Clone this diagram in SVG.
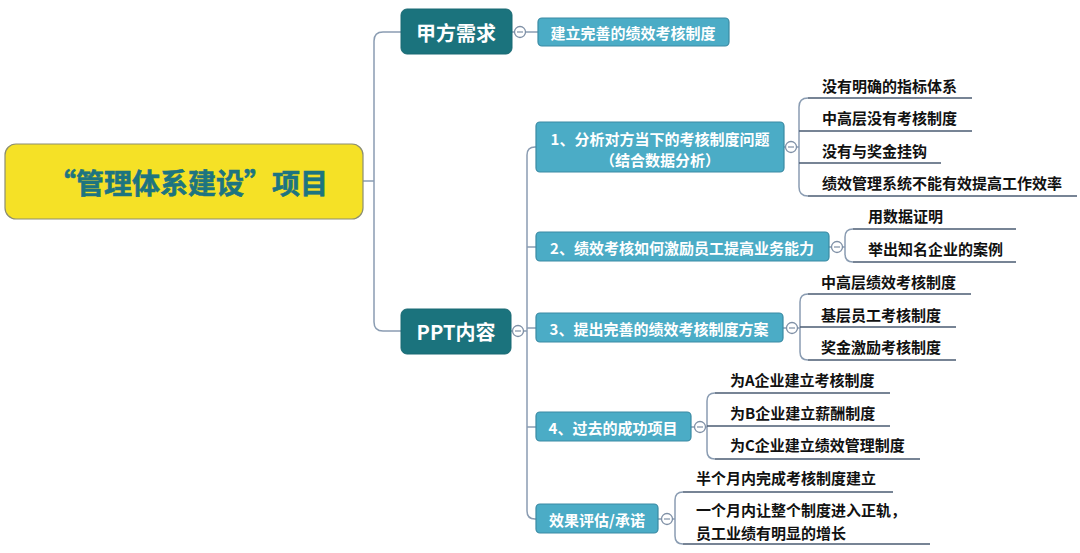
<svg xmlns="http://www.w3.org/2000/svg" width="1080" height="553" viewBox="0 0 1080 553">
<style>
.t{font-family:"Noto Sans CJK SC","Microsoft YaHei",sans-serif;font-weight:bold}
.root{fill:#F5E126;stroke:#8C8E72;stroke-width:1.2}
.rootText{fill:#1D7480;font-size:28px;stroke:#1D7480;stroke-width:0.6}
.dark{fill:#1B737D;stroke:#1B6A74;stroke-width:1}
.darkText{fill:#FFFFFF;font-size:20px}
.light{fill:#4BACC6;stroke:#3A8AA3;stroke-width:1.2}
.lightText{fill:#FFFFFF;font-size:15px}
.leafText{fill:#111111;font-size:15px}
.conn{fill:none;stroke:#8A9CB2;stroke-width:1.5}
.under{fill:none;stroke:#4A5B72;stroke-width:1.5}
.brk{fill:none;stroke:#8A9CB2;stroke-width:1.5}
.col{fill:#FFFFFF;stroke:#7F90A6;stroke-width:1.3}
.minus{stroke:#7F90A6;stroke-width:1.2}
</style>
<rect width="1080" height="553" fill="#FFFFFF"/>
<g id="connectors">
  <path class="conn" d="M363 181 H374"/>
  <path class="conn" d="M401 32 H383 Q374 32 374 41 V322 Q374 331 383 331 H401"/>
  <path class="conn" d="M512 32 H538"/>
  <path class="conn" d="M511 331 H527"/>
  <path class="conn" d="M536 147 H535 Q527 147 527 155 V511 Q527 519 535 519 H536"/>
  <path class="conn" d="M527 247 H536"/>
  <path class="conn" d="M527 328 H536"/>
  <path class="conn" d="M527 427 H536"/>
  <path class="conn" d="M784 147 H799"/>
  <path class="brk" d="M808 98 Q799 98 799 107 V187 Q799 196 808 196"/>
  <path class="under" d="M808 98 H972"/>
  <path class="under" d="M799 131 H972"/>
  <path class="under" d="M799 163 H941"/>
  <path class="under" d="M808 196 H1077"/>
  <path class="conn" d="M829 247 H845"/>
  <path class="brk" d="M853 229 Q845 229 845 237 V254 Q845 262 853 262"/>
  <path class="under" d="M853 229 H1016"/>
  <path class="under" d="M853 262 H1016"/>
  <path class="conn" d="M783 328 H800"/>
  <path class="brk" d="M808 294 Q800 294 800 302 V352 Q800 360 808 360"/>
  <path class="under" d="M808 294 H971"/>
  <path class="under" d="M800 327 H956"/>
  <path class="under" d="M808 360 H956"/>
  <path class="conn" d="M691 427 H707"/>
  <path class="brk" d="M715 393 Q707 393 707 401 V451 Q707 459 715 459"/>
  <path class="under" d="M715 393 H890"/>
  <path class="under" d="M707 426 H890"/>
  <path class="under" d="M715 459 H920"/>
  <path class="conn" d="M658 519 H675"/>
  <path class="brk" d="M683 492 Q675 492 675 500 V536 Q675 544 683 544"/>
  <path class="under" d="M683 492 H893"/>
  <path class="under" d="M683 544 H930"/>
</g>
<g id="collapse">
  <circle class="col" cx="520" cy="32" r="5.5"/><path class="minus" d="M517 32 H523"/>
  <circle class="col" cx="518" cy="331" r="5.5"/><path class="minus" d="M515 331 H521"/>
  <circle class="col" cx="791" cy="147" r="5.5"/><path class="minus" d="M788 147 H794"/>
  <circle class="col" cx="837" cy="247" r="5.5"/><path class="minus" d="M834 247 H840"/>
  <circle class="col" cx="792" cy="328" r="5.5"/><path class="minus" d="M789 328 H795"/>
  <circle class="col" cx="700" cy="427" r="5.5"/><path class="minus" d="M697 427 H703"/>
  <circle class="col" cx="667" cy="519" r="5.5"/><path class="minus" d="M664 519 H670"/>
</g>
<g id="root">
  <rect class="root" x="5" y="144" width="358" height="75" rx="11"/>
  <text class="t rootText" x="188" y="182" text-anchor="middle" dominant-baseline="central">“管理体系建设”项目</text>
</g>
<g id="jiafang">
  <rect class="dark" x="401" y="9" width="111" height="45" rx="6"/>
  <text class="t darkText" x="456" y="32" text-anchor="middle" dominant-baseline="central">甲方需求</text>
</g>
<g id="jiafang-leaf">
  <rect class="light" x="538" y="18" width="191" height="28" rx="4"/>
  <text class="t lightText" x="633" y="32" text-anchor="middle" dominant-baseline="central">建立完善的绩效考核制度</text>
</g>
<g id="ppt">
  <rect class="dark" x="401" y="309" width="110" height="45" rx="6"/>
  <text class="t darkText" x="456" y="331" text-anchor="middle" dominant-baseline="central">PPT内容</text>
</g>
<g id="node1">
  <rect class="light" x="536" y="122" width="248" height="50" rx="4"/>
  <text class="t lightText" x="660" y="138" text-anchor="middle" dominant-baseline="central">1、分析对方当下的考核制度问题</text>
  <text class="t lightText" x="660" y="159" text-anchor="middle" dominant-baseline="central">（结合数据分析）</text>
</g>
<g id="node1-leaves">
  <text class="t leafText" x="822" y="85" dominant-baseline="central">没有明确的指标体系</text>
  <text class="t leafText" x="822" y="117" dominant-baseline="central">中高层没有考核制度</text>
  <text class="t leafText" x="822" y="150" dominant-baseline="central">没有与奖金挂钩</text>
  <text class="t leafText" x="822" y="182" dominant-baseline="central">绩效管理系统不能有效提高工作效率</text>
</g>
<g id="node2">
  <rect class="light" x="536" y="232" width="293" height="29" rx="4"/>
  <text class="t lightText" x="682" y="247" text-anchor="middle" dominant-baseline="central">2、绩效考核如何激励员工提高业务能力</text>
</g>
<g id="node2-leaves">
  <text class="t leafText" x="868" y="215" dominant-baseline="central">用数据证明</text>
  <text class="t leafText" x="868" y="248" dominant-baseline="central">举出知名企业的案例</text>
</g>
<g id="node3">
  <rect class="light" x="536" y="313" width="247" height="29" rx="4"/>
  <text class="t lightText" x="659" y="328" text-anchor="middle" dominant-baseline="central">3、提出完善的绩效考核制度方案</text>
</g>
<g id="node3-leaves">
  <text class="t leafText" x="821" y="281" dominant-baseline="central">中高层绩效考核制度</text>
  <text class="t leafText" x="821" y="314" dominant-baseline="central">基层员工考核制度</text>
  <text class="t leafText" x="821" y="346" dominant-baseline="central">奖金激励考核制度</text>
</g>
<g id="node4">
  <rect class="light" x="536" y="412" width="155" height="29" rx="4"/>
  <text class="t lightText" x="613" y="427" text-anchor="middle" dominant-baseline="central">4、过去的成功项目</text>
</g>
<g id="node4-leaves">
  <text class="t leafText" x="730" y="379" dominant-baseline="central">为A企业建立考核制度</text>
  <text class="t leafText" x="730" y="412" dominant-baseline="central">为B企业建立薪酬制度</text>
  <text class="t leafText" x="730" y="444" dominant-baseline="central">为C企业建立绩效管理制度</text>
</g>
<g id="node5">
  <rect class="light" x="536" y="504" width="122" height="29" rx="4"/>
  <text class="t lightText" x="597" y="519" text-anchor="middle" dominant-baseline="central">效果评估/承诺</text>
</g>
<g id="node5-leaves">
  <text class="t leafText" x="696" y="477" dominant-baseline="central">半个月内完成考核制度建立</text>
  <text class="t leafText" x="696" y="509" dominant-baseline="central">一个月内让整个制度进入正轨，</text>
  <text class="t leafText" x="696" y="532" dominant-baseline="central">员工业绩有明显的增长</text>
</g>
</svg>
